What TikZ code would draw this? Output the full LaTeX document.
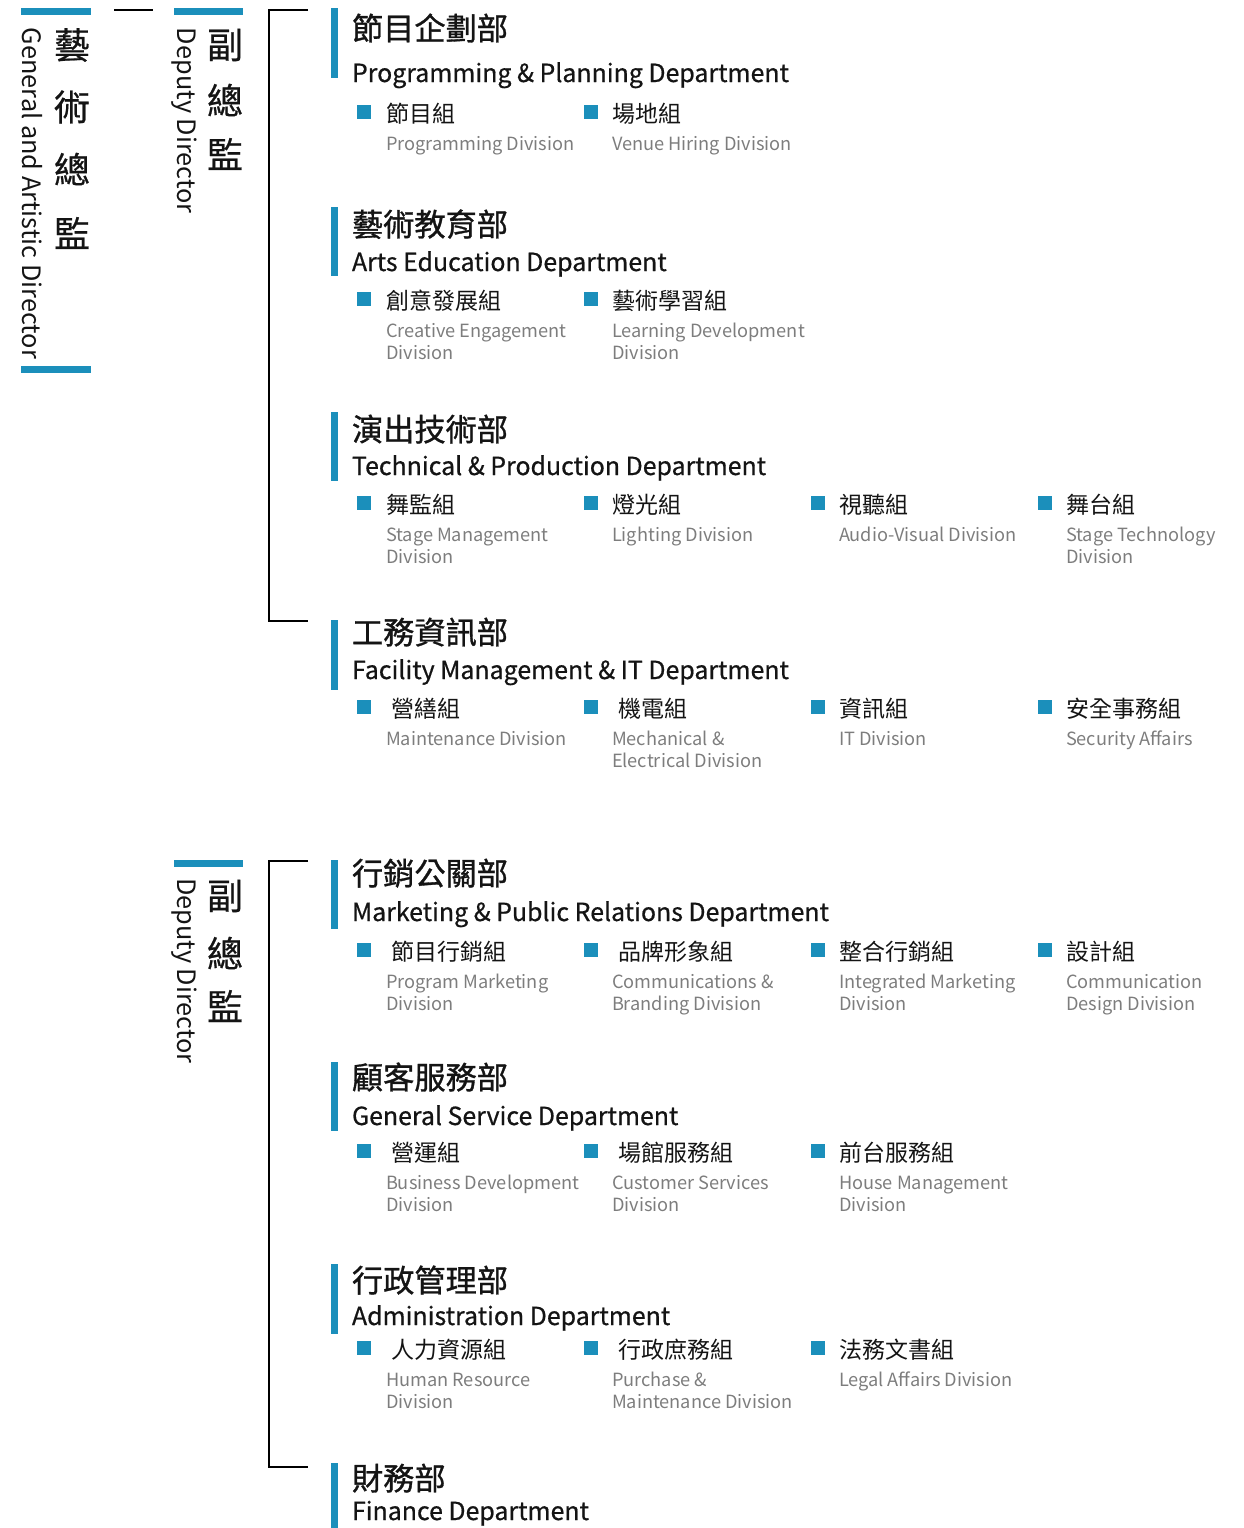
\documentclass[tikz,border=0pt]{standalone}
\usepackage{fontspec}
\setmainfont{Noto Sans CJK TC}
\newfontfamily\medfont{Noto Sans CJK TC}[FakeBold=1.0]
\newfontfamily\semifont{Noto Sans CJK TC}[FakeBold=0.6]
\definecolor{brand}{HTML}{1B8FBB}
\definecolor{subgrey}{HTML}{7D7D7D}
\definecolor{inkc}{HTML}{141414}
\newcommand\orgdiv[8]{% name, bullet x, row y, cn offset, cn, en1, en2, en offset
  \node[bulletbox, anchor=north west] (#1-b) at (#2,#3) {};
  \node[divcn] (#1-cn) at (#2+#4,#3+17.5) {#5};
  \node[diven] (#1-en) at (#2+#8,#3+45.5) {#6};
  \if\relax\detokenize{#7}\relax\else\node[diven] (#1-en2) at (#2+#8,#3+67) {#7};\fi
}
\newcommand\orgdept[7]{% name, bar top, bar bottom, title base, en base, cn, en
  \node[accentbar, minimum height=#3-#2, anchor=north west] (#1-bar) at (331,#2) {};
  \node[depttitle] (#1-cn) at (352,#4) {#6};
  \node[deptname] (#1-en) at (352,#5) {#7};
}
\begin{document}
\begin{tikzpicture}[x=1pt,y=-1pt,
  every node/.style={inner sep=0pt, outer sep=0pt},
  depttitle/.style={anchor=base west, font=\medfont\fontsize{31.2}{31.2}\selectfont, text=inkc},
  deptname/.style={anchor=base west, font=\semifont\fontsize{24.9}{24.9}\selectfont, text=inkc},
  divcn/.style={anchor=base west, font=\fontsize{23}{23}\selectfont, text=inkc},
  diven/.style={anchor=base west, font=\fontsize{18.2}{18.2}\selectfont, text=subgrey},
  bulletbox/.style={fill=brand, draw=none, minimum width=14pt, minimum height=14pt},
  accentbar/.style={fill=brand, draw=none, minimum width=6.5pt},
  headbar/.style={fill=brand, draw=none, minimum height=7pt, anchor=north west},
  link/.style={draw=black, line width=2.5pt, line join=miter, line cap=butt},
  vcn/.style={font=\semifont\fontsize{36}{36}\selectfont, text=inkc},
  ven/.style={anchor=base west, rotate=-90, font=\fontsize{25.3}{25.3}\selectfont, text=inkc}
]
\useasboundingbox (0,0) rectangle (1243,1528);
% General and Artistic Director
\node[headbar, minimum width=70pt] (gad-top) at (21,8.5) {};
\node[headbar, minimum width=70pt] (gad-bot) at (21,366) {};
\node[ven] (gad-en) at (23,28) {General and Artistic Director};
\node[vcn] (gad-c1) at (72,45) {藝};
\node[vcn] (gad-c2) at (72,107) {術};
\node[vcn] (gad-c3) at (72,169) {總};
\node[vcn] (gad-c4) at (72,233) {監};
\coordinate (gl-a) at (114,10);
\coordinate (gl-b) at (153,10);
\draw[link] (gl-a) -- (gl-b);
% Deputy Director 1
\node[headbar, minimum width=69pt] (dd1-top) at (174,8.5) {};
\node[ven] (dd1-en) at (177,28) {Deputy Director};
\node[vcn] (dd1-c1) at (225,45) {副};
\node[vcn] (dd1-c2) at (225,100) {總};
\node[vcn] (dd1-c3) at (225,154) {監};
\coordinate (br1-a) at (308,10);
\coordinate (br1-b) at (269,10);
\coordinate (br1-c) at (269,621);
\coordinate (br1-d) at (308,621);
\draw[link] (br1-a) -- (br1-b) -- (br1-c) -- (br1-d);
% Deputy Director 2
\node[headbar, minimum width=69pt] (dd2-top) at (174,860) {};
\node[ven] (dd2-en) at (177,878) {Deputy Director};
\node[vcn] (dd2-c1) at (225,896) {副};
\node[vcn] (dd2-c2) at (225,953) {總};
\node[vcn] (dd2-c3) at (225,1006) {監};
\coordinate (br2-a) at (308,861);
\coordinate (br2-b) at (269,861);
\coordinate (br2-c) at (269,1467);
\coordinate (br2-d) at (308,1467);
\draw[link] (br2-a) -- (br2-b) -- (br2-c) -- (br2-d);
% Departments
\orgdept{d1}{8}{78}{40}{82}{節目企劃部}{Programming \& Planning Department}
\orgdiv{d1a}{357}{105}{29}{節目組}{Programming Division}{}{29}
\orgdiv{d1b}{584}{105}{28}{場地組}{Venue Hiring Division}{}{28}

\orgdept{d2}{207}{276}{236}{271}{藝術教育部}{Arts Education Department}
\orgdiv{d2a}{357}{292}{29}{創意發展組}{Creative Engagement}{Division}{29}
\orgdiv{d2b}{584}{292}{28}{藝術學習組}{Learning Development}{Division}{28}

\orgdept{d3}{412}{481}{441}{475}{演出技術部}{Technical \& Production Department}
\orgdiv{d3a}{357}{496}{29}{舞監組}{Stage Management}{Division}{29}
\orgdiv{d3b}{584}{496}{28}{燈光組}{Lighting Division}{}{28}
\orgdiv{d3c}{811}{496}{28}{視聽組}{Audio-Visual Division}{}{28}
\orgdiv{d3d}{1038}{496}{28}{舞台組}{Stage Technology}{Division}{28}

\orgdept{d4}{620}{690}{644}{679}{工務資訊部}{Facility Management \& IT Department}
\orgdiv{d4a}{357}{700}{34.5}{營繕組}{Maintenance Division}{}{29}
\orgdiv{d4b}{584}{700}{34}{機電組}{Mechanical \&}{Electrical Division}{28}
\orgdiv{d4c}{811}{700}{28}{資訊組}{IT Division}{}{28}
\orgdiv{d4d}{1038}{700}{28}{安全事務組}{Security Affairs}{}{28}

\orgdept{d5}{860}{929}{885}{921}{行銷公關部}{Marketing \& Public Relations Department}
\orgdiv{d5a}{357}{943}{34.5}{節目行銷組}{Program Marketing}{Division}{29}
\orgdiv{d5b}{584}{943}{34}{品牌形象組}{Communications \&}{Branding Division}{28}
\orgdiv{d5c}{811}{943}{28}{整合行銷組}{Integrated Marketing}{Division}{28}
\orgdiv{d5d}{1038}{943}{28}{設計組}{Communication}{Design Division}{28}

\orgdept{d6}{1062}{1131}{1089}{1125}{顧客服務部}{General Service Department}
\orgdiv{d6a}{357}{1144}{34.5}{營運組}{Business Development}{Division}{29}
\orgdiv{d6b}{584}{1144}{34}{場館服務組}{Customer Services}{Division}{28}
\orgdiv{d6c}{811}{1144}{28}{前台服務組}{House Management}{Division}{28}

\orgdept{d7}{1264}{1334}{1292}{1325}{行政管理部}{Administration Department}
\orgdiv{d7a}{357}{1341}{34.5}{人力資源組}{Human Resource}{Division}{29}
\orgdiv{d7b}{584}{1341}{34}{行政庶務組}{Purchase \&}{Maintenance Division}{28}
\orgdiv{d7c}{811}{1341}{28}{法務文書組}{Legal Affairs Division}{}{28}

\orgdept{d8}{1463}{1528}{1490}{1520}{財務部}{Finance Department}
\end{tikzpicture}
\end{document}
